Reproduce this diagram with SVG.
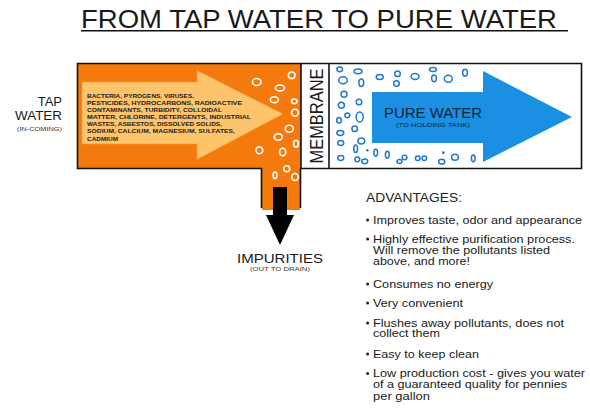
<svg xmlns="http://www.w3.org/2000/svg" width="590" height="410" viewBox="0 0 590 410">
<style>
text{font-family:"Liberation Sans",Arial,sans-serif;fill:#1a1a1a}
.pol{font-size:5.8px;font-weight:bold;fill:#2b1a00}
.adv{font-size:11.5px;fill:#222}
.small{font-size:5.6px;fill:#333}
.ob{fill:none;stroke:#fff;stroke-width:1.6}
.bb{fill:none;stroke:#1c78d0;stroke-width:1.5}
.border{fill:none;stroke:#111;stroke-width:1.6}
</style>
<rect width="590" height="410" fill="#fff"/>

<g id="title">
<text x="81" y="28" font-size="25" textLength="476" lengthAdjust="spacingAndGlyphs">FROM TAP WATER TO PURE WATER</text>
<line x1="81" y1="30.8" x2="568" y2="30.8" stroke="#111" stroke-width="1.6"/>
</g>

<g id="tap-water-label" text-anchor="end">
<text x="62" y="106" font-size="13">TAP</text>
<text x="62" y="119.5" font-size="13" textLength="47" lengthAdjust="spacingAndGlyphs">WATER</text>
<text x="62" y="130.5" class="small" textLength="45" lengthAdjust="spacingAndGlyphs">(IN-COMING)</text>
</g>

<g id="tank">
<rect x="78" y="64" width="223" height="104" fill="#f47a0e"/>
<rect x="262" y="167" width="38" height="43" fill="#f47a0e"/>
<path class="border" d="M261.5,208 V168.5 H77.5 V63.5 H581.5 V168.5 H300.5 V208"/>
</g>

<g id="filter-arrow">
<polygon points="82,82 197,82 197,70.5 283,114 197,159.5 197,144 82,144" fill="#fdc46b" stroke="#f0a040" stroke-width="0.6"/>
<g class="pol">
<text x="87" y="98" textLength="107" lengthAdjust="spacingAndGlyphs">BACTERIA, PYROGENS, VIRUSES,</text>
<text x="87" y="105" textLength="155" lengthAdjust="spacingAndGlyphs">PESTICIDES, HYDROCARBONS, RADIOACTIVE</text>
<text x="87" y="112" textLength="135" lengthAdjust="spacingAndGlyphs">CONTAMINANTS, TURBIDITY, COLLOIDAL</text>
<text x="87" y="119" textLength="164" lengthAdjust="spacingAndGlyphs">MATTER, CHLORINE, DETERGENTS, INDUSTRIAL</text>
<text x="87" y="126.2" textLength="135" lengthAdjust="spacingAndGlyphs">WASTES, ASBESTOS, DISSOLVED SOLIDS,</text>
<text x="87" y="133.4" textLength="148" lengthAdjust="spacingAndGlyphs">SODIUM, CALCIUM, MAGNESIUM, SULFATES,</text>
<text x="87" y="140.6" textLength="31" lengthAdjust="spacingAndGlyphs">CADMIUM</text>
</g>
</g>

<g id="impurity-bubbles">
<ellipse class="ob" cx="256.7" cy="82" rx="4.3" ry="3.5"/>
<ellipse class="ob" cx="291.7" cy="75.3" rx="3.3" ry="3.3"/>
<ellipse class="ob" cx="280" cy="88" rx="4.5" ry="3"/>
<ellipse class="ob" cx="274.3" cy="99.7" rx="4" ry="3"/>
<ellipse class="ob" cx="294.3" cy="101.3" rx="2.8" ry="2.3"/>
<ellipse class="ob" cx="295" cy="112.7" rx="3.4" ry="3.4"/>
<ellipse class="ob" cx="289.3" cy="128.7" rx="4" ry="3.5"/>
<ellipse class="ob" cx="278.3" cy="137" rx="4" ry="3.3"/>
<ellipse class="ob" cx="296" cy="143.7" rx="2.4" ry="3.4"/>
<ellipse class="ob" cx="259.3" cy="150.3" rx="3.4" ry="3.4"/>
<ellipse class="ob" cx="282.7" cy="152" rx="3" ry="3.8"/>
<ellipse class="ob" cx="275" cy="175.3" rx="1.9" ry="3.3"/>
<ellipse class="ob" cx="286.7" cy="168.7" rx="3" ry="3"/>
<ellipse class="ob" cx="295" cy="177" rx="3.3" ry="3.5"/>
</g>

<g id="membrane">
<line x1="301" y1="63.5" x2="301" y2="168.5" stroke="#111" stroke-width="1.6"/>
<line x1="329" y1="63.5" x2="329" y2="168.5" stroke="#111" stroke-width="1.6"/>
<text transform="translate(323,116) rotate(-90)" text-anchor="middle" font-size="19" textLength="95" lengthAdjust="spacingAndGlyphs">MEMBRANE</text>
</g>

<g id="pure-bubbles">
<ellipse class="bb" cx="339.7" cy="69.3" rx="2.8" ry="2.4"/>
<ellipse class="bb" cx="358" cy="71.3" rx="4" ry="2.4"/>
<ellipse class="bb" cx="343" cy="80.3" rx="4.3" ry="3.5"/>
<ellipse class="bb" cx="361.3" cy="82.7" rx="2.4" ry="3.8"/>
<ellipse class="bb" cx="379.7" cy="77" rx="3.5" ry="2.5"/>
<ellipse class="bb" cx="397.5" cy="73.7" rx="2.8" ry="2.8"/>
<ellipse class="bb" cx="396.5" cy="83.5" rx="2.8" ry="2.8"/>
<ellipse class="bb" cx="415" cy="76.5" rx="4" ry="3"/>
<ellipse class="bb" cx="433" cy="69.5" rx="3.5" ry="2"/>
<ellipse class="bb" cx="434" cy="78.3" rx="2.4" ry="3.4"/>
<ellipse class="bb" cx="448.3" cy="78.7" rx="4" ry="3.5"/>
<ellipse class="bb" cx="465" cy="72.7" rx="2.4" ry="3.4"/>
<ellipse class="bb" cx="344" cy="94.3" rx="3" ry="3"/>
<ellipse class="bb" cx="359" cy="102" rx="2.8" ry="2.8"/>
<ellipse class="bb" cx="341.3" cy="105.3" rx="3" ry="3"/>
<ellipse class="bb" cx="347.3" cy="115.3" rx="2.4" ry="2.4"/>
<ellipse class="bb" cx="359.7" cy="117" rx="3.5" ry="5"/>
<ellipse class="bb" cx="339" cy="120.3" rx="2.4" ry="2.8"/>
<ellipse class="bb" cx="354.7" cy="128.7" rx="2.8" ry="2.8"/>
<ellipse class="bb" cx="340.3" cy="133" rx="3.4" ry="2.4"/>
<ellipse class="bb" cx="361.3" cy="141" rx="3.4" ry="3"/>
<ellipse class="bb" cx="340.7" cy="143" rx="3" ry="2.4"/>
<ellipse class="bb" cx="355.7" cy="148.7" rx="1.9" ry="3.8"/>
<circle cx="367.3" cy="150.3" r="1.2" fill="#1c78d0"/>
<ellipse class="bb" cx="375.7" cy="152.7" rx="1.9" ry="3.4"/>
<ellipse class="bb" cx="387.3" cy="154.7" rx="1.9" ry="3.4"/>
<ellipse class="bb" cx="340.7" cy="158" rx="3" ry="2.4"/>
<ellipse class="bb" cx="357.3" cy="159.3" rx="2.4" ry="2.4"/>
<ellipse class="bb" cx="364.7" cy="161.3" rx="3" ry="2.4"/>
<ellipse class="bb" cx="399.5" cy="161.5" rx="2.4" ry="2"/>
<ellipse class="bb" cx="404.5" cy="157.5" rx="2.4" ry="2.2"/>
<ellipse class="bb" cx="417.7" cy="158.3" rx="2.3" ry="2.3"/>
<ellipse class="bb" cx="424.3" cy="158.3" rx="2.3" ry="2.3"/>
<circle cx="443.3" cy="152.7" r="1.4" fill="#1c78d0"/>
<ellipse class="bb" cx="441.7" cy="161.7" rx="3" ry="2.4"/>
<ellipse class="bb" cx="455" cy="157.3" rx="3.4" ry="3"/>
<ellipse class="bb" cx="473.3" cy="158.3" rx="1.9" ry="3.4"/>
</g>

<g id="pure-water-arrow">
<polygon points="372,92 483,92 483,71 572,117 483,162 483,143 372,143" fill="#1b8fe2"/>
<text x="433" y="118.3" text-anchor="middle" font-size="14.5" fill="#0c2440" style="fill:#0c2440" textLength="98" lengthAdjust="spacingAndGlyphs">PURE WATER</text>
<text x="433" y="127.3" text-anchor="middle" class="small" style="fill:#0c2440" textLength="74" lengthAdjust="spacingAndGlyphs">(TO HOLDING TANK)</text>
</g>

<g id="connectors">
<polygon points="273,187 287,187 287,215 294,215 280,245 266,215 273,215" fill="#000"/>
</g>

<g id="impurities-label" text-anchor="middle">
<text x="280" y="263.3" font-size="13" textLength="86" lengthAdjust="spacingAndGlyphs">IMPURITIES</text>
<text x="280" y="270.7" class="small" textLength="60" lengthAdjust="spacingAndGlyphs">(OUT TO DRAIN)</text>
</g>

<g id="advantages">
<text x="366" y="202" font-size="12" style="fill:#222" textLength="96" lengthAdjust="spacingAndGlyphs">ADVANTAGES:</text>
<g fill="#222">
<circle cx="367.6" cy="220" r="1.5"/>
<circle cx="367.6" cy="239" r="1.5"/>
<circle cx="367.6" cy="284" r="1.5"/>
<circle cx="367.6" cy="303" r="1.5"/>
<circle cx="367.6" cy="323" r="1.5"/>
<circle cx="367.6" cy="354" r="1.5"/>
<circle cx="367.6" cy="373.5" r="1.5"/>
</g>
<g class="adv">
<text x="373" y="223.5" textLength="209" lengthAdjust="spacingAndGlyphs">Improves taste, odor and appearance</text>
<text x="373" y="242.5" textLength="202" lengthAdjust="spacingAndGlyphs">Highly effective purification process.</text>
<text x="373" y="253.5" textLength="177" lengthAdjust="spacingAndGlyphs">Will remove the pollutants listed</text>
<text x="373" y="264.5" textLength="97" lengthAdjust="spacingAndGlyphs">above, and more!</text>
<text x="373" y="287.5" textLength="120" lengthAdjust="spacingAndGlyphs">Consumes no energy</text>
<text x="373" y="306.5" textLength="90" lengthAdjust="spacingAndGlyphs">Very convenient</text>
<text x="373" y="326.5" textLength="191" lengthAdjust="spacingAndGlyphs">Flushes away pollutants, does not</text>
<text x="373" y="337" textLength="67" lengthAdjust="spacingAndGlyphs">collect them</text>
<text x="373" y="357.5" textLength="106" lengthAdjust="spacingAndGlyphs">Easy to keep clean</text>
<text x="373" y="377" textLength="212" lengthAdjust="spacingAndGlyphs">Low production cost - gives you water</text>
<text x="373" y="388" textLength="194" lengthAdjust="spacingAndGlyphs">of a guaranteed quality for pennies</text>
<text x="373" y="399.5" textLength="57" lengthAdjust="spacingAndGlyphs">per gallon</text>
</g>
</g>
</svg>
